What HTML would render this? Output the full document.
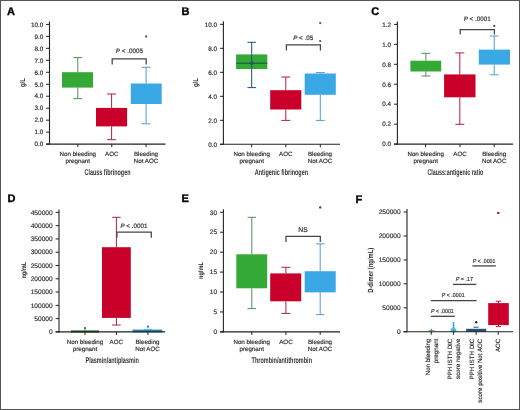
<!DOCTYPE html>
<html><head><meta charset="utf-8"><style>
html,body{margin:0;padding:0;background:#fff;}
body{width:520px;height:410px;overflow:hidden;}
svg{display:block;font-family:"Liberation Sans",sans-serif;will-change:transform;text-rendering:geometricPrecision;}
text{stroke:#333;stroke-width:0.18px;}
text[font-weight="bold"]{stroke:none;}
</style></head><body>
<svg width="520" height="410" viewBox="0 0 520 410">
<rect x="0" y="0" width="520" height="410" fill="#fff"/>
<text x="7" y="14.6" font-size="11" font-weight="bold" fill="#000" style="stroke:#000;stroke-width:0.35px">A</text>
<line x1="77.8" y1="57.6" x2="77.8" y2="72.2" stroke="#4f8f52" stroke-width="1.0"/>
<line x1="77.8" y1="87.6" x2="77.8" y2="98.7" stroke="#4f8f52" stroke-width="1.0"/>
<line x1="73.3" y1="57.6" x2="82.3" y2="57.6" stroke="#4f8f52" stroke-width="1.0"/>
<line x1="73.3" y1="98.7" x2="82.3" y2="98.7" stroke="#4f8f52" stroke-width="1.0"/>
<rect x="62" y="72.2" width="31.00" height="15.40" fill="#35a935"/>
<line x1="111.6" y1="94" x2="111.6" y2="107.9" stroke="#b01e40" stroke-width="1.0"/>
<line x1="111.6" y1="126.4" x2="111.6" y2="139.7" stroke="#b01e40" stroke-width="1.0"/>
<line x1="107.1" y1="94" x2="116.1" y2="94" stroke="#b01e40" stroke-width="1.0"/>
<line x1="107.1" y1="139.7" x2="116.1" y2="139.7" stroke="#b01e40" stroke-width="1.0"/>
<rect x="96.0" y="107.9" width="31.10" height="18.50" fill="#c8002a"/>
<line x1="146.1" y1="67.3" x2="146.1" y2="83.5" stroke="#4d9fd0" stroke-width="1.0"/>
<line x1="146.1" y1="104.0" x2="146.1" y2="123.8" stroke="#4d9fd0" stroke-width="1.0"/>
<line x1="141.6" y1="67.3" x2="150.6" y2="67.3" stroke="#4d9fd0" stroke-width="1.0"/>
<line x1="141.6" y1="123.8" x2="150.6" y2="123.8" stroke="#4d9fd0" stroke-width="1.0"/>
<rect x="130.8" y="83.5" width="30.90" height="20.50" fill="#3aa8e4"/>
<circle cx="146.1" cy="36.5" r="1.15" fill="#3a5f7c"/>
<path d="M112.2 64.4 V58.9 H146.2 V64.4" fill="none" stroke="#454545" stroke-width="1.25"/>
<text x="129.4" y="53.47" font-size="6.3" text-anchor="middle" fill="#333"><tspan font-style="italic">P</tspan> &lt; .0005</text>
<line x1="49.5" y1="21.39999999999999" x2="49.5" y2="144.6" stroke="#222" stroke-width="1.1"/>
<line x1="46.1" y1="144.1" x2="49.5" y2="144.1" stroke="#222" stroke-width="1.0"/>
<text x="43.2" y="146.35" font-size="6.3" text-anchor="end" fill="#333" >0.0</text>
<line x1="46.1" y1="132.13" x2="49.5" y2="132.13" stroke="#222" stroke-width="1.0"/>
<text x="43.2" y="134.38" font-size="6.3" text-anchor="end" fill="#333" >1.0</text>
<line x1="46.1" y1="120.16" x2="49.5" y2="120.16" stroke="#222" stroke-width="1.0"/>
<text x="43.2" y="122.41" font-size="6.3" text-anchor="end" fill="#333" >2.0</text>
<line x1="46.1" y1="108.19" x2="49.5" y2="108.19" stroke="#222" stroke-width="1.0"/>
<text x="43.2" y="110.44" font-size="6.3" text-anchor="end" fill="#333" >3.0</text>
<line x1="46.1" y1="96.22" x2="49.5" y2="96.22" stroke="#222" stroke-width="1.0"/>
<text x="43.2" y="98.47" font-size="6.3" text-anchor="end" fill="#333" >4.0</text>
<line x1="46.1" y1="84.25" x2="49.5" y2="84.25" stroke="#222" stroke-width="1.0"/>
<text x="43.2" y="86.5" font-size="6.3" text-anchor="end" fill="#333" >5.0</text>
<line x1="46.1" y1="72.27999999999999" x2="49.5" y2="72.27999999999999" stroke="#222" stroke-width="1.0"/>
<text x="43.2" y="74.52999999999999" font-size="6.3" text-anchor="end" fill="#333" >6.0</text>
<line x1="46.1" y1="60.30999999999999" x2="49.5" y2="60.30999999999999" stroke="#222" stroke-width="1.0"/>
<text x="43.2" y="62.55999999999999" font-size="6.3" text-anchor="end" fill="#333" >7.0</text>
<line x1="46.1" y1="48.33999999999999" x2="49.5" y2="48.33999999999999" stroke="#222" stroke-width="1.0"/>
<text x="43.2" y="50.58999999999999" font-size="6.3" text-anchor="end" fill="#333" >8.0</text>
<line x1="46.1" y1="36.36999999999999" x2="49.5" y2="36.36999999999999" stroke="#222" stroke-width="1.0"/>
<text x="43.2" y="38.61999999999999" font-size="6.3" text-anchor="end" fill="#333" >9.0</text>
<line x1="46.1" y1="24.39999999999999" x2="49.5" y2="24.39999999999999" stroke="#222" stroke-width="1.0"/>
<text x="43.2" y="26.64999999999999" font-size="6.3" text-anchor="end" fill="#333" >10.0</text>
<line x1="46.1" y1="144.1" x2="165.5" y2="144.1" stroke="#222" stroke-width="1.1"/>
<line x1="77.8" y1="144.1" x2="77.8" y2="147.1" stroke="#222" stroke-width="1.0"/>
<line x1="111.8" y1="144.1" x2="111.8" y2="147.1" stroke="#222" stroke-width="1.0"/>
<line x1="146" y1="144.1" x2="146" y2="147.1" stroke="#222" stroke-width="1.0"/>
<text x="77.8" y="155.6" font-size="6.2" text-anchor="middle" fill="#333" >Non bleeding</text>
<text x="77.8" y="163.1" font-size="6.2" text-anchor="middle" fill="#333" >pregnant</text>
<text x="111.8" y="155.6" font-size="6.2" text-anchor="middle" fill="#333" >AOC</text>
<text x="146" y="155.6" font-size="6.2" text-anchor="middle" fill="#333" >Bleeding</text>
<text x="146" y="163.1" font-size="6.2" text-anchor="middle" fill="#333" >Not AOC</text>
<text x="84.50" y="175.30" font-size="8.4" textLength="46" lengthAdjust="spacingAndGlyphs" fill="#333" font-weight="bold">Clauss fibrinogen</text>
<text transform="translate(24.82,82.6) rotate(-90)" x="-4.50" y="0" font-size="7.2" textLength="9" lengthAdjust="spacingAndGlyphs" fill="#2a2a2a" font-weight="bold">g/L</text>
<text x="181.5" y="14.6" font-size="11" font-weight="bold" fill="#000" style="stroke:#000;stroke-width:0.35px">B</text>
<line x1="251.7" y1="42.3" x2="251.7" y2="54.4" stroke="#1f4e79" stroke-width="1.0"/>
<line x1="251.7" y1="69.0" x2="251.7" y2="87.6" stroke="#1f4e79" stroke-width="1.0"/>
<line x1="247.45" y1="42.3" x2="255.95" y2="42.3" stroke="#1f4e79" stroke-width="1.0"/>
<line x1="247.45" y1="87.6" x2="255.95" y2="87.6" stroke="#1f4e79" stroke-width="1.0"/>
<rect x="236.1" y="54.4" width="31.20" height="14.60" fill="#35a935"/>
<line x1="236.1" y1="63.2" x2="267.3" y2="63.2" stroke="#1e5a52" stroke-width="1.2"/>
<line x1="251.7" y1="54.4" x2="251.7" y2="69.0" stroke="#1f4e79" stroke-width="1.0"/>
<circle cx="251.9" cy="63.3" r="1.7" fill="#1e5a52"/>
<line x1="285.8" y1="77.0" x2="285.8" y2="90.2" stroke="#b01e40" stroke-width="1.0"/>
<line x1="285.8" y1="109.5" x2="285.8" y2="120.4" stroke="#b01e40" stroke-width="1.0"/>
<line x1="281.3" y1="77.0" x2="290.3" y2="77.0" stroke="#b01e40" stroke-width="1.0"/>
<line x1="281.3" y1="120.4" x2="290.3" y2="120.4" stroke="#b01e40" stroke-width="1.0"/>
<rect x="270.2" y="90.2" width="31.10" height="19.30" fill="#c8002a"/>
<line x1="320.3" y1="72.6" x2="320.3" y2="73.5" stroke="#4d9fd0" stroke-width="1.0"/>
<line x1="320.3" y1="94.8" x2="320.3" y2="120.4" stroke="#4d9fd0" stroke-width="1.0"/>
<line x1="315.8" y1="72.6" x2="324.8" y2="72.6" stroke="#4d9fd0" stroke-width="1.0"/>
<line x1="315.8" y1="120.4" x2="324.8" y2="120.4" stroke="#4d9fd0" stroke-width="1.0"/>
<rect x="304.7" y="73.5" width="31.10" height="21.30" fill="#3aa8e4"/>
<circle cx="320.2" cy="23.1" r="1.15" fill="#3a5f7c"/>
<circle cx="320.2" cy="41.1" r="1.15" fill="#3a5f7c"/>
<path d="M286.4 50.5 V44.9 H320.4 V50.5" fill="none" stroke="#454545" stroke-width="1.25"/>
<text x="303.2" y="39.67" font-size="6.3" text-anchor="middle" fill="#333"><tspan font-style="italic">P</tspan> &lt; .05</text>
<line x1="223.4" y1="21.30000000000001" x2="223.4" y2="144.8" stroke="#222" stroke-width="1.1"/>
<line x1="220.0" y1="144.3" x2="223.4" y2="144.3" stroke="#222" stroke-width="1.0"/>
<text x="217.1" y="146.55" font-size="6.3" text-anchor="end" fill="#333" >0.0</text>
<line x1="220.0" y1="120.30000000000001" x2="223.4" y2="120.30000000000001" stroke="#222" stroke-width="1.0"/>
<text x="217.1" y="122.55000000000001" font-size="6.3" text-anchor="end" fill="#333" >2.0</text>
<line x1="220.0" y1="96.30000000000001" x2="223.4" y2="96.30000000000001" stroke="#222" stroke-width="1.0"/>
<text x="217.1" y="98.55000000000001" font-size="6.3" text-anchor="end" fill="#333" >4.0</text>
<line x1="220.0" y1="72.30000000000001" x2="223.4" y2="72.30000000000001" stroke="#222" stroke-width="1.0"/>
<text x="217.1" y="74.55000000000001" font-size="6.3" text-anchor="end" fill="#333" >6.0</text>
<line x1="220.0" y1="48.30000000000001" x2="223.4" y2="48.30000000000001" stroke="#222" stroke-width="1.0"/>
<text x="217.1" y="50.55000000000001" font-size="6.3" text-anchor="end" fill="#333" >8.0</text>
<line x1="220.0" y1="24.30000000000001" x2="223.4" y2="24.30000000000001" stroke="#222" stroke-width="1.0"/>
<text x="217.1" y="26.55000000000001" font-size="6.3" text-anchor="end" fill="#333" >10.0</text>
<line x1="220.0" y1="144.3" x2="340" y2="144.3" stroke="#222" stroke-width="1.1"/>
<line x1="251.7" y1="144.3" x2="251.7" y2="147.3" stroke="#222" stroke-width="1.0"/>
<line x1="285.8" y1="144.3" x2="285.8" y2="147.3" stroke="#222" stroke-width="1.0"/>
<line x1="320.3" y1="144.3" x2="320.3" y2="147.3" stroke="#222" stroke-width="1.0"/>
<text x="251.7" y="155.6" font-size="6.2" text-anchor="middle" fill="#333" >Non bleeding</text>
<text x="251.7" y="163.1" font-size="6.2" text-anchor="middle" fill="#333" >pregnant</text>
<text x="285.8" y="155.6" font-size="6.2" text-anchor="middle" fill="#333" >AOC</text>
<text x="320.0" y="155.6" font-size="6.2" text-anchor="middle" fill="#333" >Bleeding</text>
<text x="320.0" y="163.1" font-size="6.2" text-anchor="middle" fill="#333" >Not AOC</text>
<text x="254.80" y="175.30" font-size="8.4" textLength="53.3" lengthAdjust="spacingAndGlyphs" fill="#333" font-weight="bold">Antigenic fibrinogen</text>
<text transform="translate(198.42,82.6) rotate(-90)" x="-4.50" y="0" font-size="7.2" textLength="9" lengthAdjust="spacingAndGlyphs" fill="#2a2a2a" font-weight="bold">g/L</text>
<text x="371.2" y="14.6" font-size="11" font-weight="bold" fill="#000" style="stroke:#000;stroke-width:0.35px">C</text>
<line x1="425.9" y1="53.3" x2="425.9" y2="60.7" stroke="#4f8f52" stroke-width="1.0"/>
<line x1="425.9" y1="71.5" x2="425.9" y2="76.0" stroke="#4f8f52" stroke-width="1.0"/>
<line x1="421.4" y1="53.3" x2="430.4" y2="53.3" stroke="#4f8f52" stroke-width="1.0"/>
<line x1="421.4" y1="76.0" x2="430.4" y2="76.0" stroke="#4f8f52" stroke-width="1.0"/>
<rect x="410.4" y="60.7" width="30.80" height="10.80" fill="#35a935"/>
<line x1="459.8" y1="52.9" x2="459.8" y2="74.4" stroke="#b01e40" stroke-width="1.0"/>
<line x1="459.8" y1="97.3" x2="459.8" y2="124.3" stroke="#b01e40" stroke-width="1.0"/>
<line x1="455.3" y1="52.9" x2="464.3" y2="52.9" stroke="#b01e40" stroke-width="1.0"/>
<line x1="455.3" y1="124.3" x2="464.3" y2="124.3" stroke="#b01e40" stroke-width="1.0"/>
<rect x="444.1" y="74.4" width="31.40" height="22.90" fill="#c8002a"/>
<line x1="494.2" y1="36.0" x2="494.2" y2="49.6" stroke="#4d9fd0" stroke-width="1.0"/>
<line x1="494.2" y1="64.6" x2="494.2" y2="74.8" stroke="#4d9fd0" stroke-width="1.0"/>
<line x1="489.7" y1="36.0" x2="498.7" y2="36.0" stroke="#4d9fd0" stroke-width="1.0"/>
<line x1="489.7" y1="74.8" x2="498.7" y2="74.8" stroke="#4d9fd0" stroke-width="1.0"/>
<rect x="478.8" y="49.6" width="31.20" height="15.00" fill="#3aa8e4"/>
<circle cx="494.3" cy="26.0" r="1.15" fill="#3a5f7c"/>
<path d="M460.2 34.6 V29.6 H494.4 V34.6" fill="none" stroke="#454545" stroke-width="1.25"/>
<text x="477.2" y="21.37" font-size="6.3" text-anchor="middle" fill="#333"><tspan font-style="italic">P</tspan> &lt; .0001</text>
<line x1="397.4" y1="21.399999999999977" x2="397.4" y2="144.6" stroke="#222" stroke-width="1.1"/>
<line x1="394.0" y1="144.1" x2="397.4" y2="144.1" stroke="#222" stroke-width="1.0"/>
<text x="391.09999999999997" y="146.35" font-size="6.3" text-anchor="end" fill="#333" >0.0</text>
<line x1="394.0" y1="124.14999999999999" x2="397.4" y2="124.14999999999999" stroke="#222" stroke-width="1.0"/>
<text x="391.09999999999997" y="126.39999999999999" font-size="6.3" text-anchor="end" fill="#333" >0.2</text>
<line x1="394.0" y1="104.19999999999999" x2="397.4" y2="104.19999999999999" stroke="#222" stroke-width="1.0"/>
<text x="391.09999999999997" y="106.44999999999999" font-size="6.3" text-anchor="end" fill="#333" >0.4</text>
<line x1="394.0" y1="84.24999999999999" x2="397.4" y2="84.24999999999999" stroke="#222" stroke-width="1.0"/>
<text x="391.09999999999997" y="86.49999999999999" font-size="6.3" text-anchor="end" fill="#333" >0.6</text>
<line x1="394.0" y1="64.29999999999998" x2="397.4" y2="64.29999999999998" stroke="#222" stroke-width="1.0"/>
<text x="391.09999999999997" y="66.54999999999998" font-size="6.3" text-anchor="end" fill="#333" >0.8</text>
<line x1="394.0" y1="44.349999999999994" x2="397.4" y2="44.349999999999994" stroke="#222" stroke-width="1.0"/>
<text x="391.09999999999997" y="46.599999999999994" font-size="6.3" text-anchor="end" fill="#333" >1.0</text>
<line x1="394.0" y1="24.399999999999977" x2="397.4" y2="24.399999999999977" stroke="#222" stroke-width="1.0"/>
<text x="391.09999999999997" y="26.649999999999977" font-size="6.3" text-anchor="end" fill="#333" >1.2</text>
<line x1="394.0" y1="144.1" x2="513.1" y2="144.1" stroke="#222" stroke-width="1.1"/>
<line x1="425.6" y1="144.1" x2="425.6" y2="147.1" stroke="#222" stroke-width="1.0"/>
<line x1="460" y1="144.1" x2="460" y2="147.1" stroke="#222" stroke-width="1.0"/>
<line x1="494.2" y1="144.1" x2="494.2" y2="147.1" stroke="#222" stroke-width="1.0"/>
<text x="425.7" y="155.6" font-size="6.2" text-anchor="middle" fill="#333" >Non bleeding</text>
<text x="425.7" y="163.1" font-size="6.2" text-anchor="middle" fill="#333" >pregnant</text>
<text x="460" y="155.6" font-size="6.2" text-anchor="middle" fill="#333" >AOC</text>
<text x="494.2" y="155.6" font-size="6.2" text-anchor="middle" fill="#333" >Bleeding</text>
<text x="494.2" y="163.1" font-size="6.2" text-anchor="middle" fill="#333" >Not AOC</text>
<text x="427.40" y="175.30" font-size="8.4" textLength="56" lengthAdjust="spacingAndGlyphs" fill="#333" font-weight="bold">Clauss:antigenic ratio</text>
<text x="7.5" y="202.3" font-size="11" font-weight="bold" fill="#000" style="stroke:#000;stroke-width:0.35px">D</text>
<line x1="116.4" y1="217.3" x2="116.4" y2="247.2" stroke="#b01e40" stroke-width="1.0"/>
<line x1="116.4" y1="317.9" x2="116.4" y2="325.0" stroke="#b01e40" stroke-width="1.0"/>
<line x1="112.15" y1="217.3" x2="120.65" y2="217.3" stroke="#b01e40" stroke-width="1.0"/>
<line x1="112.15" y1="325.0" x2="120.65" y2="325.0" stroke="#b01e40" stroke-width="1.0"/>
<rect x="102.0" y="247.2" width="28.80" height="70.70" fill="#c8002a"/>
<rect x="71" y="330.4" width="28.00" height="2.20" fill="#2c5e2c"/>
<line x1="85" y1="327.5" x2="85" y2="331" stroke="#35a935" stroke-width="1.0"/>
<circle cx="85" cy="327.9" r="1.0" fill="#2c6a2c"/>
<rect x="132.5" y="329.6" width="29.80" height="2.70" fill="#2a7fb8"/>
<line x1="144" y1="329.4" x2="152" y2="329.4" stroke="#3aa8e4" stroke-width="0.8"/>
<circle cx="147.9" cy="326.7" r="1.1" fill="#2a6fb0"/>
<path d="M116.9 237.8 V232.1 H151.3 V237.8" fill="none" stroke="#454545" stroke-width="1.25"/>
<text x="134.0" y="227.97" font-size="6.3" text-anchor="middle" fill="#333"><tspan font-style="italic">P</tspan> &lt; .0001</text>
<line x1="59.0" y1="209.39999999999998" x2="59.0" y2="332.4" stroke="#222" stroke-width="1.1"/>
<line x1="55.6" y1="331.9" x2="59.0" y2="331.9" stroke="#222" stroke-width="1.0"/>
<text x="52.7" y="334.15" font-size="6.6" text-anchor="end" fill="#333" >0</text>
<line x1="55.6" y1="318.6222222222222" x2="59.0" y2="318.6222222222222" stroke="#222" stroke-width="1.0"/>
<text x="52.7" y="320.8722222222222" font-size="6.6" text-anchor="end" fill="#333" >50000</text>
<line x1="55.6" y1="305.34444444444443" x2="59.0" y2="305.34444444444443" stroke="#222" stroke-width="1.0"/>
<text x="52.7" y="307.59444444444443" font-size="6.6" text-anchor="end" fill="#333" >100000</text>
<line x1="55.6" y1="292.06666666666666" x2="59.0" y2="292.06666666666666" stroke="#222" stroke-width="1.0"/>
<text x="52.7" y="294.31666666666666" font-size="6.6" text-anchor="end" fill="#333" >150000</text>
<line x1="55.6" y1="278.7888888888889" x2="59.0" y2="278.7888888888889" stroke="#222" stroke-width="1.0"/>
<text x="52.7" y="281.0388888888889" font-size="6.6" text-anchor="end" fill="#333" >200000</text>
<line x1="55.6" y1="265.51111111111106" x2="59.0" y2="265.51111111111106" stroke="#222" stroke-width="1.0"/>
<text x="52.7" y="267.76111111111106" font-size="6.6" text-anchor="end" fill="#333" >250000</text>
<line x1="55.6" y1="252.2333333333333" x2="59.0" y2="252.2333333333333" stroke="#222" stroke-width="1.0"/>
<text x="52.7" y="254.4833333333333" font-size="6.6" text-anchor="end" fill="#333" >300000</text>
<line x1="55.6" y1="238.95555555555552" x2="59.0" y2="238.95555555555552" stroke="#222" stroke-width="1.0"/>
<text x="52.7" y="241.20555555555552" font-size="6.6" text-anchor="end" fill="#333" >350000</text>
<line x1="55.6" y1="225.67777777777775" x2="59.0" y2="225.67777777777775" stroke="#222" stroke-width="1.0"/>
<text x="52.7" y="227.92777777777775" font-size="6.6" text-anchor="end" fill="#333" >400000</text>
<line x1="55.6" y1="212.39999999999998" x2="59.0" y2="212.39999999999998" stroke="#222" stroke-width="1.0"/>
<text x="52.7" y="214.64999999999998" font-size="6.6" text-anchor="end" fill="#333" >450000</text>
<line x1="55.6" y1="331.9" x2="165.2" y2="331.9" stroke="#222" stroke-width="1.1"/>
<line x1="85" y1="331.9" x2="85" y2="334.9" stroke="#222" stroke-width="1.0"/>
<line x1="116.4" y1="331.9" x2="116.4" y2="334.9" stroke="#222" stroke-width="1.0"/>
<line x1="147.9" y1="331.9" x2="147.9" y2="334.9" stroke="#222" stroke-width="1.0"/>
<text x="85" y="343.6" font-size="6.2" text-anchor="middle" fill="#333" >Non bleeding</text>
<text x="85" y="351.1" font-size="6.2" text-anchor="middle" fill="#333" >pregnant</text>
<text x="116.3" y="343.6" font-size="6.2" text-anchor="middle" fill="#333" >AOC</text>
<text x="147.5" y="343.6" font-size="6.2" text-anchor="middle" fill="#333" >Bleeding</text>
<text x="147.5" y="351.1" font-size="6.2" text-anchor="middle" fill="#333" >Not AOC</text>
<text x="85.50" y="362.50" font-size="8.4" textLength="53.3" lengthAdjust="spacingAndGlyphs" fill="#333" font-weight="bold">Plasmin/antiplasmin</text>
<text transform="translate(25.64,270.2) rotate(-90)" x="-8.40" y="0" font-size="6.7" textLength="16.8" lengthAdjust="spacingAndGlyphs" fill="#2a2a2a" font-weight="bold">ng/mL</text>
<text x="181.5" y="202.2" font-size="11" font-weight="bold" fill="#000" style="stroke:#000;stroke-width:0.35px">E</text>
<line x1="251.8" y1="217.3" x2="251.8" y2="254.3" stroke="#4f8f52" stroke-width="1.0"/>
<line x1="251.8" y1="288.3" x2="251.8" y2="308.6" stroke="#4f8f52" stroke-width="1.0"/>
<line x1="247.55" y1="217.3" x2="256.05" y2="217.3" stroke="#4f8f52" stroke-width="1.0"/>
<line x1="247.55" y1="308.6" x2="256.05" y2="308.6" stroke="#4f8f52" stroke-width="1.0"/>
<rect x="236.3" y="254.3" width="30.90" height="34.00" fill="#35a935"/>
<line x1="285.9" y1="267.3" x2="285.9" y2="273.4" stroke="#b01e40" stroke-width="1.0"/>
<line x1="285.9" y1="301.3" x2="285.9" y2="313.4" stroke="#b01e40" stroke-width="1.0"/>
<line x1="281.4" y1="267.3" x2="290.4" y2="267.3" stroke="#b01e40" stroke-width="1.0"/>
<line x1="281.4" y1="313.4" x2="290.4" y2="313.4" stroke="#b01e40" stroke-width="1.0"/>
<rect x="270.2" y="273.4" width="31.00" height="27.90" fill="#c8002a"/>
<line x1="320.2" y1="243.9" x2="320.2" y2="271.2" stroke="#4d9fd0" stroke-width="1.0"/>
<line x1="320.2" y1="292.4" x2="320.2" y2="314.6" stroke="#4d9fd0" stroke-width="1.0"/>
<line x1="315.95" y1="243.9" x2="324.45" y2="243.9" stroke="#4d9fd0" stroke-width="1.0"/>
<line x1="315.95" y1="314.6" x2="324.45" y2="314.6" stroke="#4d9fd0" stroke-width="1.0"/>
<rect x="304.7" y="271.2" width="31.00" height="21.20" fill="#3aa8e4"/>
<circle cx="320.2" cy="207.4" r="1.2" fill="#2e4a52"/>
<path d="M286 242 V236.3 H320.3 V242" fill="none" stroke="#454545" stroke-width="1.25"/>
<text x="303.0" y="232.2" font-size="6.8" text-anchor="middle" fill="#333" >NS</text>
<line x1="223.4" y1="209.28999999999996" x2="223.4" y2="332.4" stroke="#222" stroke-width="1.1"/>
<line x1="220.0" y1="331.9" x2="223.4" y2="331.9" stroke="#222" stroke-width="1.0"/>
<text x="217.1" y="334.15" font-size="6.6" text-anchor="end" fill="#333" >0</text>
<line x1="220.0" y1="311.965" x2="223.4" y2="311.965" stroke="#222" stroke-width="1.0"/>
<text x="217.1" y="314.215" font-size="6.6" text-anchor="end" fill="#333" >5</text>
<line x1="220.0" y1="292.03" x2="223.4" y2="292.03" stroke="#222" stroke-width="1.0"/>
<text x="217.1" y="294.28" font-size="6.6" text-anchor="end" fill="#333" >10</text>
<line x1="220.0" y1="272.09499999999997" x2="223.4" y2="272.09499999999997" stroke="#222" stroke-width="1.0"/>
<text x="217.1" y="274.34499999999997" font-size="6.6" text-anchor="end" fill="#333" >15</text>
<line x1="220.0" y1="252.15999999999997" x2="223.4" y2="252.15999999999997" stroke="#222" stroke-width="1.0"/>
<text x="217.1" y="254.40999999999997" font-size="6.6" text-anchor="end" fill="#333" >20</text>
<line x1="220.0" y1="232.22499999999997" x2="223.4" y2="232.22499999999997" stroke="#222" stroke-width="1.0"/>
<text x="217.1" y="234.47499999999997" font-size="6.6" text-anchor="end" fill="#333" >25</text>
<line x1="220.0" y1="212.28999999999996" x2="223.4" y2="212.28999999999996" stroke="#222" stroke-width="1.0"/>
<text x="217.1" y="214.53999999999996" font-size="6.6" text-anchor="end" fill="#333" >30</text>
<line x1="220.0" y1="331.9" x2="340" y2="331.9" stroke="#222" stroke-width="1.1"/>
<line x1="251.8" y1="331.9" x2="251.8" y2="334.9" stroke="#222" stroke-width="1.0"/>
<line x1="285.9" y1="331.9" x2="285.9" y2="334.9" stroke="#222" stroke-width="1.0"/>
<line x1="320.2" y1="331.9" x2="320.2" y2="334.9" stroke="#222" stroke-width="1.0"/>
<text x="251.7" y="343.6" font-size="6.2" text-anchor="middle" fill="#333" >Non bleeding</text>
<text x="251.7" y="351.1" font-size="6.2" text-anchor="middle" fill="#333" >pregnant</text>
<text x="285.9" y="343.6" font-size="6.2" text-anchor="middle" fill="#333" >AOC</text>
<text x="320" y="343.6" font-size="6.2" text-anchor="middle" fill="#333" >Bleeding</text>
<text x="320" y="351.1" font-size="6.2" text-anchor="middle" fill="#333" >Not AOC</text>
<text x="251.60" y="362.60" font-size="8.4" textLength="60.4" lengthAdjust="spacingAndGlyphs" fill="#333" font-weight="bold">Thrombin/antithrombin</text>
<text transform="translate(203.44,270.6) rotate(-90)" x="-8.40" y="0" font-size="6.7" textLength="16.8" lengthAdjust="spacingAndGlyphs" fill="#2a2a2a" font-weight="bold">ng/mL</text>
<text x="355.5" y="202.6" font-size="11" font-weight="bold" fill="#000" style="stroke:#000;stroke-width:0.35px">F</text>
<line x1="428.5" y1="330.8" x2="434.5" y2="330.8" stroke="#35a935" stroke-width="1.0"/>
<line x1="431.5" y1="328.8" x2="431.5" y2="332.5" stroke="#35a935" stroke-width="1.0"/>
<rect x="450.6" y="328.5" width="5.70" height="3.50" fill="#4cb8e6"/>
<line x1="453.5" y1="322.2" x2="453.5" y2="332" stroke="#3aa8e4" stroke-width="1.2"/>
<circle cx="453.5" cy="323.0" r="1.0" fill="#3aa8d8"/>
<circle cx="453.5" cy="325.3" r="1.0" fill="#3aa8d8"/>
<circle cx="453.5" cy="327.5" r="1.0" fill="#3aa8d8"/>
<rect x="466.2" y="328.8" width="20.00" height="3.00" fill="#1d4f80"/>
<line x1="473.5" y1="327.2" x2="478.5" y2="327.2" stroke="#1d4f80" stroke-width="1.0"/>
<circle cx="476.2" cy="322.3" r="1.2" fill="#152a45"/>
<line x1="498.5" y1="301.2" x2="498.5" y2="303.1" stroke="#b01e40" stroke-width="1.0"/>
<line x1="498.5" y1="325.1" x2="498.5" y2="326.6" stroke="#b01e40" stroke-width="1.0"/>
<line x1="495.85" y1="301.2" x2="501.15" y2="301.2" stroke="#b01e40" stroke-width="1.0"/>
<line x1="495.85" y1="326.6" x2="501.15" y2="326.6" stroke="#b01e40" stroke-width="1.0"/>
<rect x="488.2" y="303.1" width="20.60" height="22.00" fill="#c8002a"/>
<circle cx="498.3" cy="212.9" r="1.2" fill="#c8002a"/>
<line x1="430.8" y1="316.3" x2="454.8" y2="316.3" stroke="#444" stroke-width="1.3"/>
<text x="431.00" y="313.19" font-size="5.8" textLength="22.8" lengthAdjust="spacingAndGlyphs" fill="#333"><tspan font-style="italic">P</tspan> &lt; .0001</text>
<line x1="430.8" y1="300.7" x2="476.6" y2="300.7" stroke="#444" stroke-width="1.3"/>
<text x="441.80" y="297.29" font-size="5.8" textLength="22.8" lengthAdjust="spacingAndGlyphs" fill="#333"><tspan font-style="italic">P</tspan> &lt; .0001</text>
<line x1="452.9" y1="284.4" x2="476.3" y2="284.4" stroke="#444" stroke-width="1.3"/>
<text x="455.70" y="281.29" font-size="5.8" textLength="17.2" lengthAdjust="spacingAndGlyphs" fill="#333"><tspan font-style="italic">P</tspan> = .17</text>
<line x1="472.4" y1="265.9" x2="495.8" y2="265.9" stroke="#444" stroke-width="1.3"/>
<text x="472.70" y="262.89" font-size="5.8" textLength="22.8" lengthAdjust="spacingAndGlyphs" fill="#333"><tspan font-style="italic">P</tspan> &lt; .0001</text>
<line x1="407.0" y1="209.0" x2="407.0" y2="332.3" stroke="#222" stroke-width="1.1"/>
<line x1="403.6" y1="331.8" x2="407.0" y2="331.8" stroke="#222" stroke-width="1.0"/>
<text x="400.7" y="334.05" font-size="6.6" text-anchor="end" fill="#333" >0</text>
<line x1="403.6" y1="307.84000000000003" x2="407.0" y2="307.84000000000003" stroke="#222" stroke-width="1.0"/>
<text x="400.7" y="310.09000000000003" font-size="6.6" text-anchor="end" fill="#333" >50000</text>
<line x1="403.6" y1="283.88" x2="407.0" y2="283.88" stroke="#222" stroke-width="1.0"/>
<text x="400.7" y="286.13" font-size="6.6" text-anchor="end" fill="#333" >100000</text>
<line x1="403.6" y1="259.92" x2="407.0" y2="259.92" stroke="#222" stroke-width="1.0"/>
<text x="400.7" y="262.17" font-size="6.6" text-anchor="end" fill="#333" >150000</text>
<line x1="403.6" y1="235.96" x2="407.0" y2="235.96" stroke="#222" stroke-width="1.0"/>
<text x="400.7" y="238.21" font-size="6.6" text-anchor="end" fill="#333" >200000</text>
<line x1="403.6" y1="212.0" x2="407.0" y2="212.0" stroke="#222" stroke-width="1.0"/>
<text x="400.7" y="214.25" font-size="6.6" text-anchor="end" fill="#333" >250000</text>
<line x1="403.6" y1="331.8" x2="513.1" y2="331.8" stroke="#222" stroke-width="1.1"/>
<line x1="431.2" y1="331.8" x2="431.2" y2="334.8" stroke="#222" stroke-width="1.0"/>
<line x1="453.6" y1="331.8" x2="453.6" y2="334.8" stroke="#222" stroke-width="1.0"/>
<line x1="476.1" y1="331.8" x2="476.1" y2="334.8" stroke="#222" stroke-width="1.0"/>
<line x1="498.2" y1="331.8" x2="498.2" y2="334.8" stroke="#222" stroke-width="1.0"/>
<text transform="translate(429.87,338.7) rotate(-90)" x="0" y="0" font-size="6.2" text-anchor="end" fill="#333">Non bleeding</text>
<text transform="translate(437.57,338.7) rotate(-90)" x="0" y="0" font-size="6.2" text-anchor="end" fill="#333">pregnant</text>
<text transform="translate(451.77,338.7) rotate(-90)" x="0" y="0" font-size="6.2" text-anchor="end" fill="#333">PPH ISTH DIC</text>
<text transform="translate(459.97,338.7) rotate(-90)" x="0" y="0" font-size="6.2" text-anchor="end" fill="#333">score negative</text>
<text transform="translate(473.77,338.7) rotate(-90)" x="0" y="0" font-size="6.2" text-anchor="end" fill="#333">PPH ISTH DIC</text>
<text transform="translate(481.87,338.7) rotate(-90)" x="0" y="0" font-size="6.2" text-anchor="end" fill="#333">score positive Not AOC</text>
<text transform="translate(500.07,338.7) rotate(-90)" x="0" y="0" font-size="6.2" text-anchor="end" fill="#333">AOC</text>
<text transform="translate(372.82,270.3) rotate(-90)" x="-22.50" y="0" font-size="7.5" textLength="45" lengthAdjust="spacingAndGlyphs" fill="#2a2a2a" font-weight="bold">D-dimer (ng/mL)</text>
<rect x="0.5" y="0.5" width="519" height="409" fill="none" stroke="#555" stroke-width="1"/>
</svg>
</body></html>
